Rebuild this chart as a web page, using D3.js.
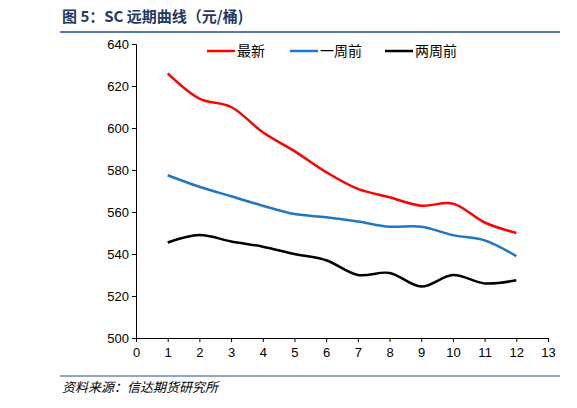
<!DOCTYPE html>
<html><head><meta charset="utf-8">
<script src="https://cdn.jsdelivr.net/npm/d3@7"></script>
<style>body{margin:0;background:#fff;font-family:"Liberation Sans",Arial,sans-serif}</style>
</head><body><div id="chart"></div>
<script>
const months = [1,2,3,4,5,6,7,8,9,10,11,12];
const latest = [626,614,610,598,589,579,571,567,563,564,555,550];
const weekAgo = [577.5,572,567.5,563,559,557.5,555.5,553,553,549,546.5,539];
const twoWeeksAgo = [545.5,549,546,543.5,540,537,530,531,524.5,530,526,527.5];
const yTicks = [500,520,540,560,580,600,620,640];
const xTicks = d3.range(0,14);

const svg = d3.select("#chart").append("svg").attr("width",577).attr("height",408);
const x = d3.scaleLinear().domain([0,13]).range([136,548]);
const y = d3.scaleLinear().domain([500,640]).range([338,44]);

svg.append("text").attr("x",62).attr("y",22).attr("font-size",15).attr("font-weight","bold")
   .attr("fill","#1f3864").attr("font-family","'Noto Sans CJK SC',sans-serif").text("图 5：SC 远期曲线（元/桶)");
svg.append("line").attr("x1",60).attr("x2",560).attr("y1",32).attr("y2",32).attr("stroke","#1f4e8c").attr("stroke-width",1.5);

svg.append("g").attr("transform","translate(136,0)")
   .call(d3.axisLeft(y).tickValues(yTicks).tickSize(4))
   .call(g=>g.selectAll("text").attr("font-size",13).attr("fill","#000"));
svg.append("g").attr("transform","translate(0,338)")
   .call(d3.axisBottom(x).tickValues(xTicks).tickSize(4))
   .call(g=>g.selectAll("text").attr("font-size",13).attr("fill","#000").attr("dy","0.9em"));

const series = [
  {name:"最新",vals:latest,color:"#ff0000",lx:207},
  {name:"一周前",vals:weekAgo,color:"#1f77c4",lx:290},
  {name:"两周前",vals:twoWeeksAgo,color:"#000000",lx:385}
];
const line = d3.line().x((d,i)=>x(months[i])).y(d=>y(d)).curve(d3.curveCatmullRom.alpha(0.5));
series.forEach(s=>{
  svg.append("path").attr("d",line(s.vals)).attr("fill","none").attr("stroke",s.color).attr("stroke-width",2.5);
  svg.append("line").attr("x1",s.lx).attr("x2",s.lx+28).attr("y1",51).attr("y2",51).attr("stroke",s.color).attr("stroke-width",2.5);
  svg.append("text").attr("x",s.lx+30).attr("y",56).attr("font-size",14)
     .attr("font-family","'Noto Sans CJK SC',sans-serif").text(s.name);
});

svg.append("line").attr("x1",60).attr("x2",560).attr("y1",376).attr("y2",376).attr("stroke","#1f4e8c").attr("stroke-width",1);
svg.append("text").attr("x",62).attr("y",392).attr("font-size",13).attr("font-style","italic")
   .attr("font-family","'Noto Sans CJK SC',sans-serif").text("资料来源：信达期货研究所");
</script></body></html>
